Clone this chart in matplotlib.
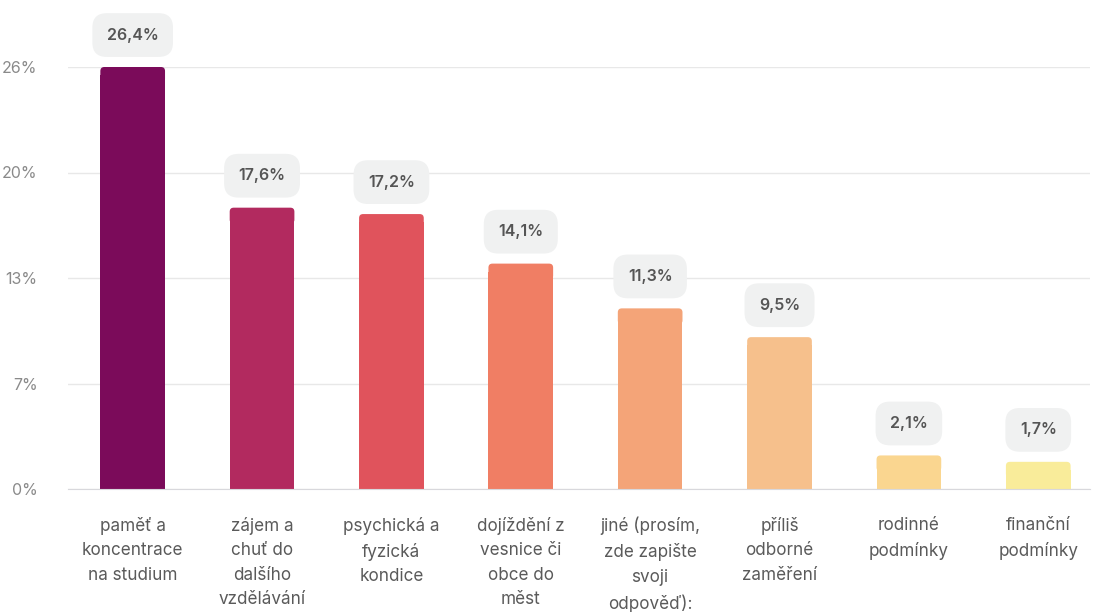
import matplotlib.pyplot as plt
from matplotlib.patches import FancyBboxPatch

plt.rcParams['font.family'] = ['Inter', 'DejaVu Sans']

categories = ["paměť a\nkoncentrace\nna studium",
              "zájem a\nchuť do\ndalšího\nvzdělávání",
              "psychická a\nfyzická\nkondice",
              "dojíždění z\nvesnice či\nobce do\nměst",
              "jiné (prosím,\nzde zapište\nsvoji\nodpověď):",
              "příliš\nodborné\nzaměření",
              "rodinné\npodmínky",
              "finanční\npodmínky"]
values = [26.4, 17.6, 17.2, 14.1, 11.3, 9.5, 2.1, 1.7]
colors = ["#7B0B5A", "#B22A5F", "#E0535C", "#F07E64",
          "#F4A478", "#F6C08C", "#FAD690", "#F9EC9A"]
tick_values = [0, 6.6, 13.2, 19.8, 26.4]
tick_labels = ["0%", "7%", "13%", "20%", "26%"]

fig = plt.figure(figsize=(10.93, 6.12), dpi=100)
ax = fig.add_axes([68 / 1093, 123 / 612, 1022 / 1093, 422 / 612])

x = list(range(len(values)))
bars = ax.bar(x, values, width=0.5, color=colors, zorder=3)

# rounded top corners: shorten the bar and put a rounded cap on it
px_per_x = 1022 / 7.9
px_per_y = 422 / 26.4
aspect = px_per_x / px_per_y
rx = 4 / px_per_x
ry = rx * aspect
for b in bars:
    h = b.get_height()
    b.set_height(h - 2 * ry)
    cap = FancyBboxPatch((b.get_x() + rx, h - 3 * ry), b.get_width() - 2 * rx, 2 * ry,
                         boxstyle=f"round,pad={rx}", mutation_aspect=aspect,
                         facecolor=b.get_facecolor(), edgecolor="none", zorder=3, clip_on=False)
    ax.add_patch(cap)

for xi, v in zip(x, values):
    ax.annotate(f"{v:.1f}".replace(".", ",") + "%", (xi, v), xytext=(0, 23),
                textcoords="offset points", ha="center", va="center",
                fontsize=11.5, fontweight="semibold", color="#555555", annotation_clip=False,
                bbox=dict(boxstyle="round,pad=0.9,rounding_size=0.9",
                          facecolor="#F0F1F1", edgecolor="none"))

ax.set_xlim(-0.5, 7.4)
ax.set_ylim(0, 26.4)
ax.set_yticks(tick_values)
ax.set_yticklabels(tick_labels)
ax.set_xticks(x)
ax.set_xticklabels(categories, linespacing=1.58, va="top")
ax.tick_params(axis="y", length=0, pad=22, labelsize=11.5, labelcolor="#8A8A8A")
ax.tick_params(axis="x", length=0, pad=20, labelsize=12.3, labelcolor="#5A5A5A")
ax.grid(axis="y", color="#E8E8E8", linewidth=1, zorder=0)
for s in ["top", "right", "left"]:
    ax.spines[s].set_visible(False)
ax.spines["bottom"].set_color("#D8D8DC")
ax.spines["bottom"].set_zorder(4)

fig.savefig("out.png", dpi=100)
